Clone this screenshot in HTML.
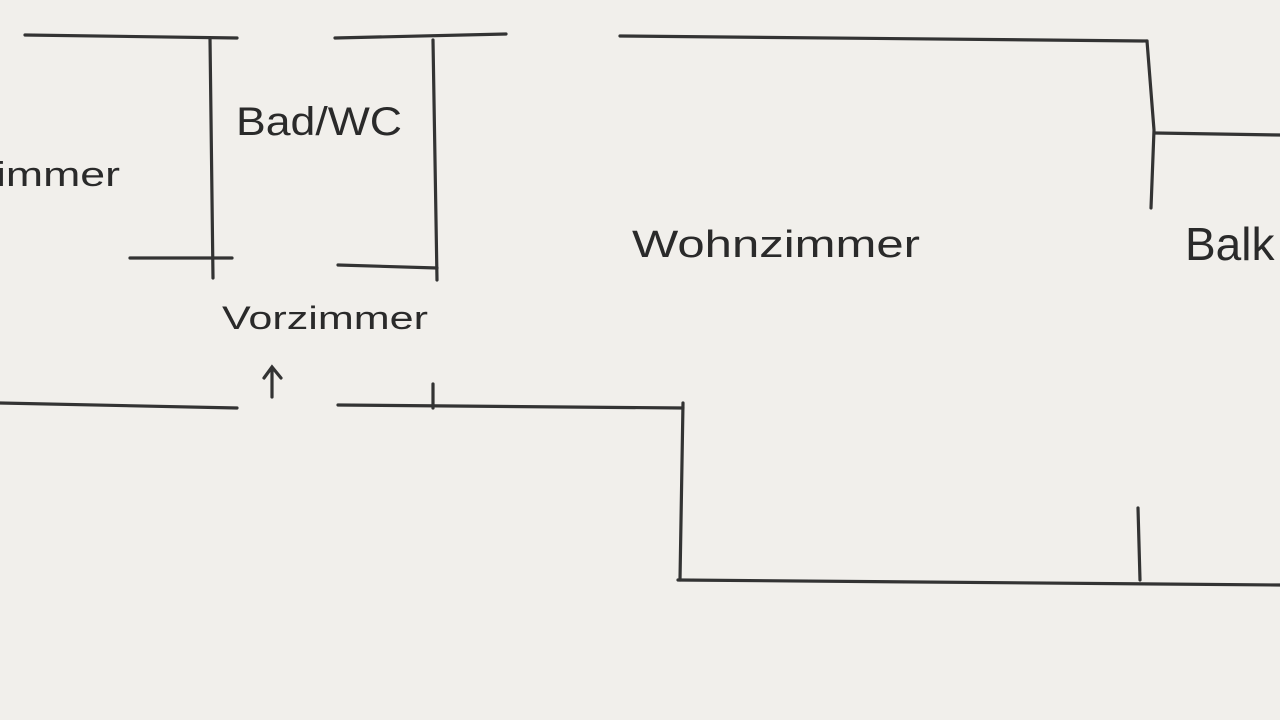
<!DOCTYPE html>
<html><head><meta charset="utf-8"><style>
html,body{margin:0;padding:0;background:#f1efeb;}
svg{display:block}
text{font-family:"Liberation Sans",sans-serif;fill:#2a2a2a;}
</style></head><body>
<svg width="1280" height="720" viewBox="0 0 1280 720">
<rect width="1280" height="720" fill="#f1efeb"/>
<g stroke="#333" stroke-width="3.2" stroke-linecap="round" fill="none">
<path d="M25 35 L237 38"/>
<path d="M210 38 L213 278"/>
<path d="M130 258 L232 258"/>
<path d="M335 38 L506 34"/>
<path d="M433 40 L437 280"/>
<path d="M338 265 L437 268"/>
<path d="M620 36 L1147 41"/>
<path d="M1147 41 L1154 130 L1151 208"/>
<path d="M1155 133 L1280 135"/>
<path d="M0 403 L237 408"/>
<path d="M338 405 L683 408"/>
<path d="M433 384 L433 408"/>
<path d="M683 403 L680 580"/>
<path d="M678 580 L1280 585"/>
<path d="M1138 508 L1140 580"/>
<path d="M272 397 L272 368 M264 378 L272 367 L281 378"/>
</g>
<text x="236" y="135" font-size="40" textLength="166" lengthAdjust="spacingAndGlyphs">Bad/WC</text>
<text x="-4" y="186" font-size="34" textLength="124" lengthAdjust="spacingAndGlyphs">immer</text>
<text x="222" y="329" font-size="32" textLength="206" lengthAdjust="spacingAndGlyphs">Vorzimmer</text>
<text x="632" y="257" font-size="38" textLength="288" lengthAdjust="spacingAndGlyphs">Wohnzimmer</text>
<text x="1185" y="260" font-size="46">Balk</text>
</svg>
</body></html>
